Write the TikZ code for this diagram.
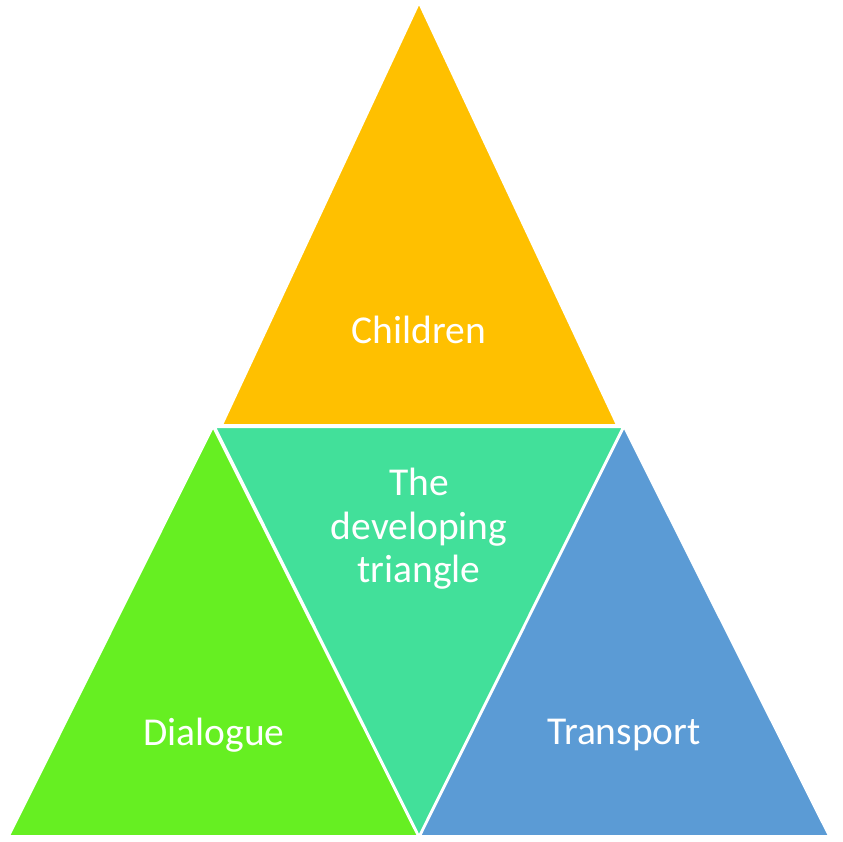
\documentclass[tikz,border=0pt]{standalone}
\usepackage{fontspec}
\setmainfont{Carlito}
\definecolor{childrenorange}{HTML}{FFC000}
\definecolor{dialoguegreen}{HTML}{66EF22}
\definecolor{middleteal}{HTML}{42E09A}
\definecolor{transportblue}{HTML}{5B9BD5}
\tikzset{
    piece/.style={draw=white, line width=2pt, line join=miter},
    piecetext/.style={text=white, align=center, font=\fontsize{39.5}{43.5}\selectfont},
}

\begin{document}
\begin{tikzpicture}[x=1pt,y=-1pt]
\useasboundingbox (0,0) rectangle (842,842);
% outer three triangles
\fill[childrenorange, piece] (419,3) -- (222,425) -- (617,425) -- cycle;
\fill[dialoguegreen, piece] (213,427) -- (9,836) -- (418,836) -- cycle;
\fill[transportblue, piece] (624,427) -- (420,836) -- (829,836) -- cycle;
% the one in the middle
\fill[middleteal, piece] (215,427) -- (623,427) -- (419,836) -- cycle;

\node[piecetext] (children) at (419,330) {Children};
\node[piecetext] (developing) at (419,529) {The\\developing\\triangle};
\node[piecetext] (dialogue) at (214,735) {Dialogue};
\node[piecetext] (transport) at (624,735) {Transport};
\end{tikzpicture}
\end{document}
